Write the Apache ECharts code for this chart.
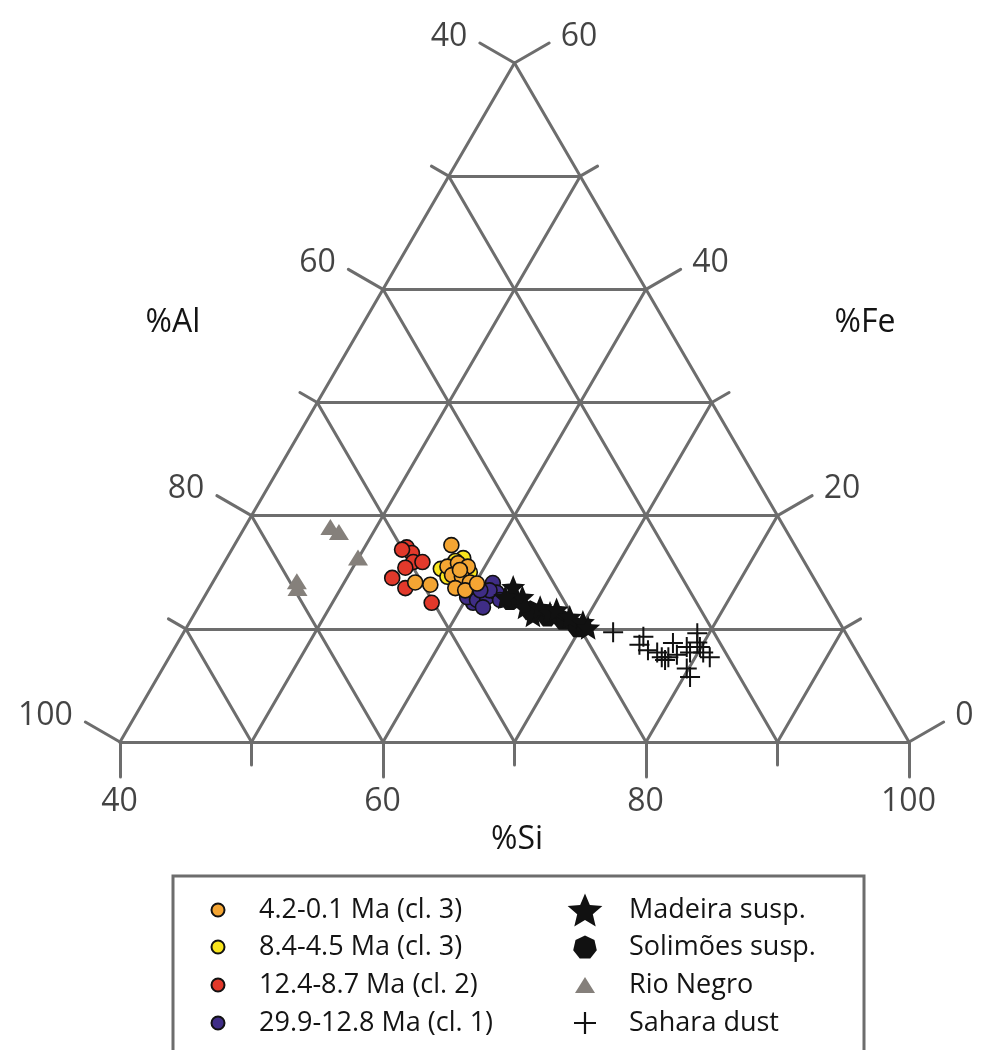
<!DOCTYPE html>
<html><head><meta charset="utf-8">
<script src="https://cdn.jsdelivr.net/npm/echarts@6/dist/echarts.min.js"></script>
<style>html,body{margin:0;padding:0;background:#fff}#c{width:981px;height:1050px}</style>
</head><body><div id="c"></div>
<script>
// ---------- data: x = %Si (base position), y = %Fe (height) ----------
const siTicks = [40, 50, 60, 70, 80, 90, 100];
const siLabels = [40, 60, 80, 100];
const feTicks = [0, 10, 20, 30, 40, 50, 60];
const feLabels = [0, 20, 40, 60];
const alLabels = [100, 80, 60, 40];           // left side labels at Fe = 0, 20, 40, 60

const ma42_01 = [[65.2,17.4],[62.45,14.1],[63.6,13.9],[64.9,15.5],[65.7,15.8],[66.45,15.5],[65.25,14.75],[66.0,14.6],[66.6,14.1],[65.5,13.6],[66.25,13.4],[67.15,14.0],[65.85,15.2]];
const ma84_45 = [[64.4,15.3],[66.1,16.25],[64.9,14.6],[65.5,16.0],[66.6,15.0]];
const ma124_87 = [[61.8,17.2],[62.2,16.7],[61.45,17.0],[62.3,15.9],[63.0,15.9],[61.7,15.4],[60.7,14.5],[61.7,13.6],[63.7,12.3]];
const ma299_128 = [[66.85,12.3],[66.4,12.8],[67.15,12.55],[67.9,12.8],[67.6,11.9],[68.35,14.05],[68.65,13.2],[68.9,12.55],[68.1,13.4],[67.4,13.4]];
const madeira = [[69.9,13.7],[70.6,12.8],[70.8,11.9],[71.4,11.2],[71.95,11.9],[72.7,11.4],[73.2,11.7],[74.2,11.05],[75.2,10.6],[75.6,10.1],[69.3,12.8]];
const solimoes = [[69.65,12.55],[71.2,11.65],[72.5,11.1],[73.7,10.8],[74.8,10.15]];
const rioNegro = [[56.0,19.0],[56.65,18.55],[58.1,16.3],[53.45,14.2],[53.5,13.6]];
const sahara = [[77.5,9.7],[79.8,9.3],[79.5,8.6],[80.15,8.1],[80.85,7.9],[81.2,7.5],[81.7,7.5],[82.05,8.75],[82.35,7.7],[83.1,8.4],[83.35,7.9],[83.9,8.8],[83.9,9.6],[84.35,7.9],[84.85,7.5],[83.1,6.5],[83.35,5.75],[84.1,8.4],[81.45,7.25]];

// ---------- geometry / style ----------
const SI_MIN = 40, SI_MAX = 100, FE_MAX = 60;
const GRID = {left: 120, top: 63, width: 789, height: 679};
const PX = GRID.width / (SI_MAX - SI_MIN), PY = GRID.height / FE_MAX;
const HALF = (SI_MAX - SI_MIN) / 2 / FE_MAX;
const leftEdge = fe => SI_MIN + fe * HALF;
const rightEdge = fe => SI_MAX - fe * HALF;
const GRIDC = '#6d6d6d', TXT = '#141414', FONT = 'Open Sans';
const C30 = Math.cos(Math.PI / 6), S30 = Math.sin(Math.PI / 6);

const STAR = 'path://M10,0 L12.65,6.36 L19.51,6.91 L14.28,11.39 L15.88,18.09 L10,14.5 L4.12,18.09 L5.72,11.39 L0.49,6.91 L7.35,6.36 Z';
const HEPT = 'path://M10,0 L17.82,3.77 L19.75,12.23 L14.34,19.01 L5.66,19.01 L0.25,12.23 L2.18,3.77 Z';
const TRI = 'path://M10,0 L20,16 L0,16 Z';
const PLUS = 'path://M9,0 H11 V9 H20 V11 H11 V20 H9 V11 H0 V9 H9 Z';

// grid lines
const segs = [];
segs.push([[SI_MIN, 0], [leftEdge(FE_MAX), FE_MAX]]);
segs.push([[SI_MAX, 0], [rightEdge(FE_MAX), FE_MAX]]);
feTicks.forEach(fe => { if (fe < FE_MAX) segs.push([[leftEdge(fe), fe], [rightEdge(fe), fe]]); });
siTicks.forEach(si => {
  if (si > SI_MIN && si < SI_MAX) {
    const f1 = (SI_MAX - si) / (2 * HALF);
    segs.push([[si, 0], [si + f1 * HALF, f1]]);
    const f2 = (si - SI_MIN) / (2 * HALF);
    segs.push([[si, 0], [si - f2 * HALF, f2]]);
  }
});
// ticks
const baseLab = [], leftLab = [], rightLab = [];
siTicks.forEach(si => {
  const major = siLabels.includes(si);
  const len = major ? 35 : 23;
  segs.push([[si, 0], [si, -len / PY]]);
  if (major) baseLab.push({name: String(si), value: [si, -len / PY]});
});
feTicks.forEach(fe => {
  const major = feLabels.includes(fe);
  const len = major ? 40 : 20;
  const lx = leftEdge(fe), rx = rightEdge(fe);
  const le = [lx - len * C30 / PX, fe + len * S30 / PY];
  const re = [rx + len * C30 / PX, fe + len * S30 / PY];
  segs.push([[lx, fe], le]);
  segs.push([[rx, fe], re]);
  if (major) {
    leftLab.push({name: String(alLabels[feLabels.indexOf(fe)]), value: le});
    rightLab.push({name: String(fe), value: re});
  }
});

function labelSeries(data, pos, align, vAlign) {
  return {
    type: 'scatter', data: data, symbol: 'circle', symbolSize: 1, silent: true, clip: false,
    itemStyle: {color: 'rgba(0,0,0,0)'}, z: 5,
    label: {show: true, formatter: p => p.name, position: pos, align: align, verticalAlign: vAlign,
      fontFamily: FONT, fontSize: 32, color: TXT}
  };
}

const pointSeries = [
  {name: '4.2-0.1 Ma (cl. 3)', data: ma42_01, color: '#f4a533', symbol: 'circle', size: 15, border: true},
  {name: '8.4-4.5 Ma (cl. 3)', data: ma84_45, color: '#f9e51c', symbol: 'circle', size: 15, border: true},
  {name: '12.4-8.7 Ma (cl. 2)', data: ma124_87, color: '#e2392b', symbol: 'circle', size: 15, border: true},
  {name: '29.9-12.8 Ma (cl. 1)', data: ma299_128, color: '#3f2d86', symbol: 'circle', size: 15, border: true},
  {name: 'Madeira susp.', data: madeira, color: '#111111', symbol: STAR, size: 24, border: false},
  {name: 'Solimões susp.', data: solimoes, color: '#111111', symbol: HEPT, size: 20, border: false},
  {name: 'Rio Negro', data: rioNegro, color: '#85807b', symbol: TRI, size: [20, 16], border: false},
  {name: 'Sahara dust', data: sahara, color: '#111111', symbol: PLUS, size: 20, border: false}
];
const drawOrder = ['Rio Negro', '12.4-8.7 Ma (cl. 2)', '29.9-12.8 Ma (cl. 1)', '8.4-4.5 Ma (cl. 3)', '4.2-0.1 Ma (cl. 3)', 'Solimões susp.', 'Madeira susp.', 'Sahara dust'];

const series = [{
  type: 'lines', coordinateSystem: 'cartesian2d', silent: true, clip: false, z: 1,
  data: segs.map(s => ({coords: s})),
  lineStyle: {color: GRIDC, width: 3, opacity: 1, cap: 'round'}
}];
pointSeries.forEach(s => {
  series.push({
    name: s.name, type: 'scatter', data: s.data, symbol: s.symbol, symbolSize: s.size, silent: true,
    z: 10 + drawOrder.indexOf(s.name),
    itemStyle: {color: s.color, opacity: 1, borderColor: s.border ? '#111' : 'rgba(0,0,0,0)', borderWidth: s.border ? 1.6 : 0}
  });
});
series.push(labelSeries(leftLab, [-12, -6], 'right', 'middle'));
series.push(labelSeries(rightLab, [12, -6], 'left', 'middle'));
series.push(labelSeries(baseLab, [0, 25], 'center', 'middle'));

// legend layout (icon center x, text start x, row center y)
const LEG_FONT = 27;
const colX = [217, 585], colText = [258, 629], rowY = [910, 947, 985, 1023];
const legendDefs = [
  {name: '4.2-0.1 Ma (cl. 3)', col: 0, row: 0, icon: 'circle', h: 13, w: 13},
  {name: '8.4-4.5 Ma (cl. 3)', col: 0, row: 1, icon: 'circle', h: 13, w: 13},
  {name: '12.4-8.7 Ma (cl. 2)', col: 0, row: 2, icon: 'circle', h: 13, w: 13},
  {name: '29.9-12.8 Ma (cl. 1)', col: 0, row: 3, icon: 'circle', h: 13, w: 13},
  {name: 'Madeira susp.', col: 1, row: 0, icon: STAR, h: 33, w: 33 * 19.02 / 18.09},
  {name: 'Solimões susp.', col: 1, row: 1, icon: HEPT, h: 23, w: 23 * 19.5 / 19.01},
  {name: 'Rio Negro', col: 1, row: 2, icon: TRI, h: 16, w: 20},
  {name: 'Sahara dust', col: 1, row: 3, icon: PLUS, h: 22, w: 22}
];
const legends = legendDefs.map(d => {
  const iw = 2 * (colText[d.col] - colX[d.col] - 5);
  return {
    show: true, orient: 'horizontal', padding: 0, selectedMode: false,
    left: colX[d.col] - d.w / 2, top: rowY[d.row] - Math.max(d.h, LEG_FONT) / 2,
    itemWidth: iw, itemHeight: d.h, symbolKeepAspect: true,
    data: [{name: d.name, icon: d.icon}],
    textStyle: {fontFamily: FONT, fontSize: LEG_FONT, color: TXT}
  };
});

const chart = echarts.init(document.getElementById('c'), null, {renderer: 'canvas'});
chart.setOption({
  backgroundColor: '#ffffff',
  animation: false,
  grid: {left: GRID.left, top: GRID.top, width: GRID.width, height: GRID.height, outerBoundsMode: 'none'},
  xAxis: {type: 'value', min: SI_MIN, max: SI_MAX, show: false},
  yAxis: {type: 'value', min: 0, max: FE_MAX, show: false},
  legend: legends,
  graphic: [
    {type: 'text', x: 173, y: 323, style: {text: '%Al', font: '32px "Open Sans"', fill: TXT, textAlign: 'center', textVerticalAlign: 'middle', align: 'center', verticalAlign: 'middle'}},
    {type: 'text', x: 865, y: 323, style: {text: '%Fe', font: '32px "Open Sans"', fill: TXT, textAlign: 'center', textVerticalAlign: 'middle', align: 'center', verticalAlign: 'middle'}},
    {type: 'text', x: 517, y: 840, style: {text: '%Si', font: '32px "Open Sans"', fill: TXT, textAlign: 'center', textVerticalAlign: 'middle', align: 'center', verticalAlign: 'middle'}},
    {type: 'rect', shape: {x: 173, y: 876, width: 691, height: 220}, style: {fill: 'none', stroke: GRIDC, lineWidth: 3}, z: -1}
  ],
  series: series
});
</script>
</body></html>
